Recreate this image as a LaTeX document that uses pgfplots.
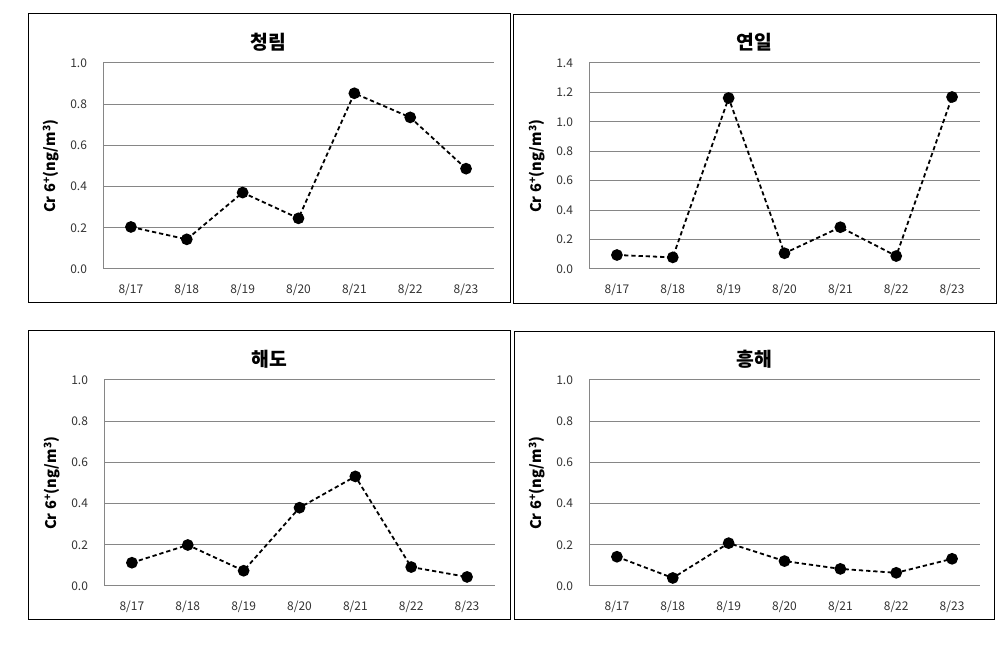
\documentclass[border=0pt]{standalone}
\usepackage{fontspec}
\setmainfont{Noto Sans CJK KR}
\usepackage{pgfplots}
\pgfplotsset{compat=1.18}
\definecolor{gridgray}{RGB}{134,134,134}
\pgfplotsset{
  panel/.style={
    scale only axis,
    width=293.25pt, height=154.5pt,
    anchor=south west,
    xmin=-0.5, xmax=6.5,
    ymin=0,
    xtick={0,1,2,3,4,5,6},
    xticklabels={8/17,8/18,8/19,8/20,8/21,8/22,8/23},
    axis x line*=bottom, axis y line*=left,
    axis line style={gridgray, line width=0.75pt, -},
    major tick length=0pt,
    ymajorgrids, grid style={gridgray, line width=0.75pt},
    /pgf/number format/assume math mode=true,
    /pgf/number format/fixed, /pgf/number format/fixed zerofill,
    /pgf/number format/precision=1,
    ticklabel style={font=\fontsize{9}{10}\selectfont, text=black!80},
    yticklabel style={xshift=-8.5pt},
    xticklabel style={yshift=-8pt},
    ylabel={Cr 6\textsuperscript{+}(ng/m\textsuperscript{3})},
    ylabel style={at={(rel axis cs:0,0.5)}, anchor=center, yshift=39pt, font=\fontsize{11}{12}\selectfont\bfseries},
    every axis title shift=0pt,
    title style={at={(rel axis cs:0.423,1)}, anchor=center, yshift=15.75pt, font=\fontsize{14.5}{16}\selectfont\bfseries},
    clip=false,
  },
  series/.style={black, line width=1.35pt, dash pattern=on 3.2pt off 2.2pt, mark=*, mark size=3.7pt, mark options={solid, fill=black}},
}
\begin{document}
\begin{tikzpicture}
\useasboundingbox (0,0) rectangle (754.5pt,486.75pt);
% frames
\draw[black, line width=0.75pt] (21pt,259.5pt) rectangle (382.5pt,476.25pt);
\draw[black, line width=0.75pt] (384.75pt,258.75pt) rectangle (747pt,475.5pt);
\draw[black, line width=0.75pt] (21pt,21.75pt) rectangle (382.5pt,238.5pt);
\draw[black, line width=0.75pt] (385.5pt,21.75pt) rectangle (745.5pt,237.75pt);

\begin{axis}[panel, at={(77.25pt,285pt)}, ymax=1.0, ytick={0,0.2,0.4,0.6,0.8,1.0}, title={청림}]
\addplot[series] coordinates {(0,0.204) (1,0.144) (2,0.371) (3,0.246) (4,0.853) (5,0.736) (6,0.487)};
\end{axis}

\begin{axis}[panel, at={(441.75pt,285pt)}, ymax=1.4, ytick={0,0.2,0.4,0.6,0.8,1.0,1.2,1.4}, title={연일}]
\addplot[series] coordinates {(0,0.095) (1,0.079) (2,1.162) (3,0.107) (4,0.284) (5,0.088) (6,1.169)};
\end{axis}

\begin{axis}[panel, at={(78pt,47.25pt)}, ymax=1.0, ytick={0,0.2,0.4,0.6,0.8,1.0}, title={해도}]
\addplot[series] coordinates {(0,0.113) (1,0.199) (2,0.074) (3,0.380) (4,0.532) (5,0.092) (6,0.044)};
\end{axis}

\begin{axis}[panel, at={(441.75pt,47.25pt)}, ymax=1.0, ytick={0,0.2,0.4,0.6,0.8,1.0}, title={흥해}]
\addplot[series] coordinates {(0,0.142) (1,0.039) (2,0.208) (3,0.121) (4,0.083) (5,0.064) (6,0.132)};
\end{axis}
\end{tikzpicture}
\end{document}
